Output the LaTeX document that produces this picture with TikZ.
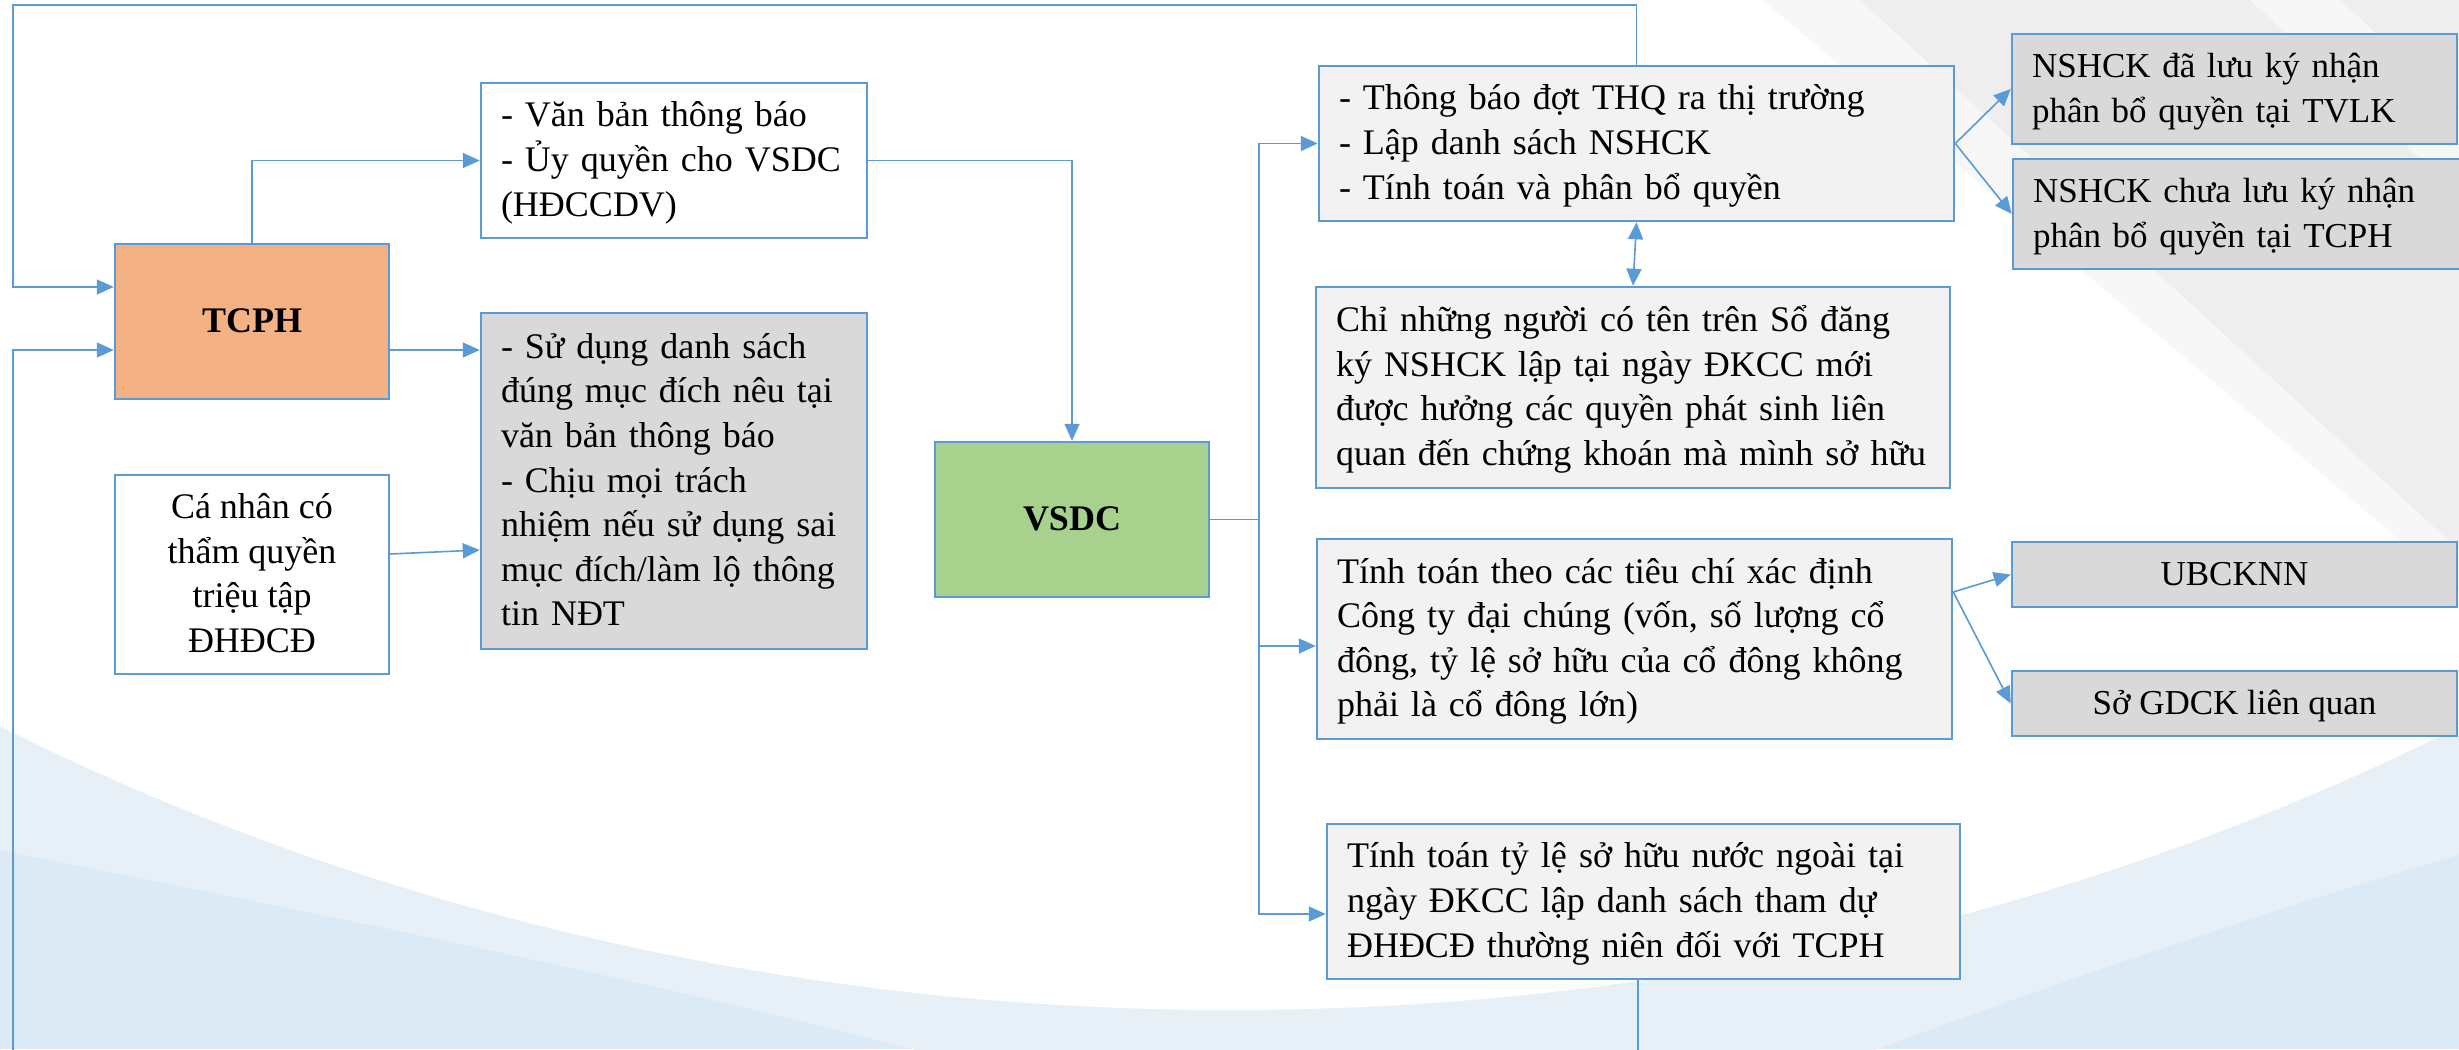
\documentclass[tikz,border=0pt]{standalone}
\usepackage{fontspec}
\setmainfont{Liberation Serif}
\usetikzlibrary{arrows.meta}
\definecolor{lb}{HTML}{5B9BD5}
\definecolor{orangef}{HTML}{F4B183}
\definecolor{greenf}{HTML}{A9D18E}
\definecolor{grayf}{HTML}{D9D9D9}
\definecolor{lightf}{HTML}{F2F2F2}
\definecolor{bgblue}{HTML}{E8F0F7}
\definecolor{bgdark}{HTML}{DCEAF5}
\definecolor{bggray}{HTML}{EEEEEE}
\definecolor{bglight}{HTML}{F7F7F7}
\newcommand\mfs{\fontsize{36pt}{44.6pt}\selectfont}
\newcommand\rfs{\fontsize{35pt}{44pt}\selectfont}
\newcommand\lst{\rule[-11.3pt]{0pt}{44.6pt}}
\newcommand\bl[1]{\mbox{\lst#1}}
\begin{document}
\begin{tikzpicture}[x=1pt,y=-1pt,
  box/.style={draw=lb, line width=2.5pt, inner sep=0pt, font=\mfs},
  lbox/.style={box, align=left},
  cbox/.style={box, align=center},
  conn/.style={draw=lb, line width=1.6pt, -{Triangle[length=17pt,width=15pt]}},
  connb/.style={draw=lb, line width=1.6pt, {Triangle[length=17pt,width=15pt]}-{Triangle[length=17pt,width=15pt]}},
  plain/.style={draw=lb, line width=1.6pt}]
\useasboundingbox (0,0) rectangle (2459,1049);
\clip (0,0) rectangle (2459,1049);
% background
\fill[bgdark] (0,0) rectangle (2459,1049);
\fill[bgblue] (0,0) -- (0,850) .. controls (350,920) and (700,990) .. (990,1070) -- (1820,1070) .. controls (2050,985) and (2250,915) .. (2459,855) -- (2459,0) -- cycle;
\fill[white] (1230,-1000) ellipse [x radius=2400pt, y radius=2010pt];
\fill[bglight] (1763,0) -- (1860,0) -- (2459,550) -- (2459,590) -- cycle;
\fill[bggray] (1860,0) -- (2459,0) -- (2459,550) -- cycle;
\fill[bglight] (2250,0) -- (2340,0) -- (2459,110) -- (2459,195) -- cycle;

% nodes
\node[cbox, fill=orangef, minimum width=274pt, minimum height=155pt] (tcph) at (252,321.5) {\bl{\textbf{TCPH}}};
\node[lbox, fill=white, minimum width=386pt, minimum height=155pt, text width=346pt] (vb) at (674,160.5)
  {\bl{- Văn bản thông báo}\\\bl{- Ủy quyền cho VSDC}\\\bl{(HĐCCDV)}};
\node[lbox, fill=grayf, minimum width=386pt, minimum height=336pt, text width=346pt] (sd) at (674,481)
  {\bl{- Sử dụng danh sách}\\\bl{đúng mục đích nêu tại}\\\bl{văn bản thông báo}\\\bl{- Chịu mọi trách}\\\bl{nhiệm nếu sử dụng sai}\\\bl{mục đích/làm lộ thông}\\\bl{tin NĐT}};
\node[cbox, fill=white, minimum width=274pt, minimum height=199pt] (cn) at (252,574.5)
  {\bl{Cá nhân có}\\\bl{thẩm quyền}\\\bl{triệu tập}\\\bl{ĐHĐCĐ}};
\node[cbox, fill=greenf, minimum width=274pt, minimum height=155pt] (vsdc) at (1072,519.5) {\bl{\textbf{VSDC}}};
\node[lbox, fill=lightf, minimum width=635pt, minimum height=155pt, text width=595pt] (thq) at (1636.5,143.5)
  {\bl{- Thông báo đợt THQ ra thị trường}\\\bl{- Lập danh sách NSHCK}\\\bl{- Tính toán và phân bổ quyền}};
\node[lbox, fill=lightf, minimum width=634pt, minimum height=201pt, text width=594pt] (chi) at (1633,387.5)
  {\bl{Chỉ những người có tên trên Sổ đăng}\\\bl{ký NSHCK lập tại ngày ĐKCC mới}\\\bl{được hưởng các quyền phát sinh liên}\\\bl{quan đến chứng khoán mà mình sở hữu}};
\node[lbox, fill=lightf, minimum width=635pt, minimum height=200pt, text width=595pt] (tt1) at (1634.5,639)
  {\bl{Tính toán theo các tiêu chí xác định}\\\bl{Công ty đại chúng (vốn, số lượng cổ}\\\bl{đông, tỷ lệ sở hữu của cổ đông không}\\\bl{phải là cổ đông lớn)}};
\node[lbox, fill=lightf, minimum width=633pt, minimum height=155pt, text width=593pt] (tt2) at (1643.5,901.5)
  {\bl{Tính toán tỷ lệ sở hữu nước ngoài tại}\\\bl{ngày ĐKCC lập danh sách tham dự}\\\bl{ĐHĐCĐ thường niên đối với TCPH}};
\node[lbox, font=\rfs, fill=grayf, minimum width=445pt, minimum height=110pt, text width=405pt] (ns1) at (2234.5,89)
  {\bl{NSHCK đã lưu ký nhận}\\\bl{phân bổ quyền tại TVLK}};
\node[lbox, font=\rfs, fill=grayf, minimum width=452pt, minimum height=110pt, text width=412pt] (ns2) at (2239,214)
  {\bl{NSHCK chưa lưu ký nhận}\\\bl{phân bổ quyền tại TCPH}};
\node[cbox, font=\rfs, fill=grayf, minimum width=445pt, minimum height=65pt] (ub) at (2234.5,574.5) {\bl{UBCKNN}};
\node[cbox, font=\rfs, fill=grayf, minimum width=445pt, minimum height=65pt] (sg) at (2234.5,703.5) {\bl{Sở GDCK liên quan}};

% connectors
\coordinate (bus) at (1259,519.5);
\draw[conn] (thq.north) |- (13,5) |- (tcph.west |- 0,287);
\draw[conn] (tt2.south -| 1638,0) |- (13,1075) |- (tcph.west |- 0,350);
\draw[conn] (tcph.north) |- (vb.west);
\draw[conn] (tcph.east |- 0,350) -- (sd.west |- 0,350);
\draw[conn] (cn.east |- 0,554) -- (sd.west |- 0,550);
\draw[conn] (vb.east) -| (vsdc.north);
\draw[plain] (vsdc.east) -- (bus);
\draw[conn] (bus) |- (thq.west);
\draw[conn] (bus) |- (tt1.west |- 0,646);
\draw[conn] (bus) |- (tt2.west |- 0,914);
\draw[connb] (thq.south) -- (chi.north);
\draw[conn] (thq.east) -- (ns1.west);
\draw[conn] (thq.east) -- (ns2.west);
\coordinate (tt1o) at (tt1.east |- 0,592);
\draw[conn] (tt1o) -- (ub.west);
\draw[conn] (tt1o) -- (sg.west);
\end{tikzpicture}
\end{document}
